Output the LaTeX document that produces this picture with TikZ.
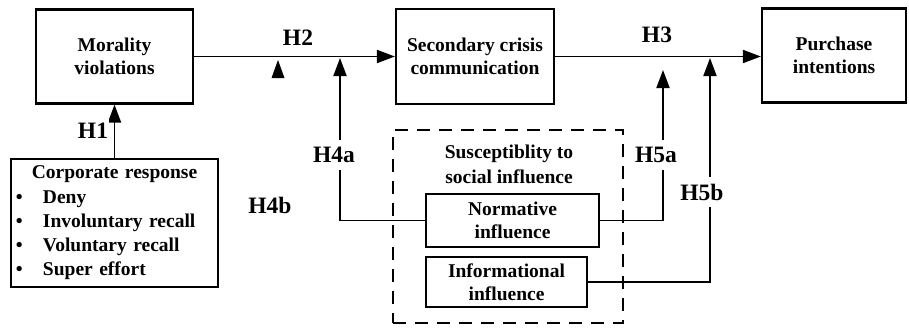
\documentclass[tikz,border=0pt]{standalone}
\usepackage{fontspec}
\setmainfont{Liberation Serif}
\usetikzlibrary{arrows.meta, positioning}

\begin{document}
\begin{tikzpicture}[x=1pt, y=-1pt,
    box/.style={draw, line width=2.2pt, align=center, inner sep=0pt,
        font=\fontsize{19.5}{23.5}\selectfont\bfseries},
    hlabel/.style={font=\fontsize{23.5}{26}\selectfont\bfseries, fill=white, inner xsep=1pt, inner ysep=7pt},
    link/.style={line width=1.9pt},
    arr/.style={link, -{Triangle[length=18pt, width=13pt]}}]

    \useasboundingbox (0,0) rectangle (909,329);

    % Main constructs
    \node[box, minimum width=157pt, minimum height=94pt] (moral) at (114.5,56.5) {Morality\\violations};
    \node[box, minimum width=158pt, minimum height=95pt] (second) at (475,56.5) {Secondary crisis\\communication};
    \node[box, minimum width=144pt, minimum height=94pt] (purchase) at (834,55.5) {Purchase\\intentions};

    % Corporate response
    \node[box, minimum width=207pt, minimum height=128pt, align=left, inner xsep=5pt, text width=197pt,
        font=\fontsize{19.5}{24.3}\selectfont\bfseries] (corp) at (114.5,223)
        {\makebox[197pt]{Corporate response}\\
         \makebox[27pt][l]{\textbullet}Deny\\
         \makebox[27pt][l]{\textbullet}Involuntary recall\\
         \makebox[27pt][l]{\textbullet}Voluntary recall\\
         \makebox[27pt][l]{\textbullet}Super effort};

    % Moderator group
    \node[draw, line width=2.2pt, dash pattern=on 13pt off 9pt, minimum width=230pt, minimum height=193pt] (suscept) at (508,226.5) {};
    \node[align=center, font=\fontsize{19.5}{25}\selectfont\bfseries] (susceptlbl) at (509,164) {Susceptiblity to\\social influence};
    \node[box, minimum width=173pt, minimum height=53pt] (norm) at (512.5,220.5) {Normative\\influence};
    \node[box, minimum width=161pt, minimum height=50pt] (info) at (506.5,282) {Informational\\influence};

    % Arrow end points
    \coordinate (h4atip) at (340,58);
    \coordinate (h5atip) at (663,70);
    \coordinate (h5btip) at (710,58);

    % Paths
    \draw[arr] (corp.north) -- (moral.south);
    \draw[arr] (moral.east) -- (second.west);
    \draw[arr] (second.east) -- (second.east -| purchase.west);
    \draw[arr] (norm.west) -| (h4atip);
    \draw[arr] (norm.east) -| (h5atip);
    \draw[arr] (info.east) -| (h5btip);

    % H4b head on its own
    \fill (278,60) -- (284.5,78) -- (271.5,78) -- cycle;

    % Hypothesis labels
    \node[hlabel] (h1) at (93,131) {H1};
    \node[hlabel] (h2) at (298,38) {H2};
    \node[hlabel] (h3) at (657,35) {H3};
    \node[hlabel] (h4a) at (334,155) {H4a};
    \node[hlabel] (h4b) at (270,205) {H4b};
    \node[hlabel] (h5a) at (656,155) {H5a};
    \node[hlabel] (h5b) at (702,192) {H5b};
\end{tikzpicture}
\end{document}
